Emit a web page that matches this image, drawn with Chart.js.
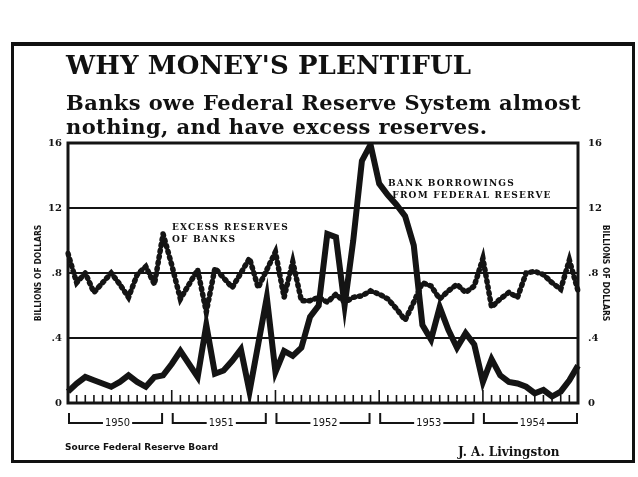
<!doctype html>
<html lang="en">
<head>
<meta charset="utf-8">
<title>Why Money's Plentiful</title>
<script src="https://cdn.jsdelivr.net/npm/chart.js@4.4.0/dist/chart.umd.min.js"></script>
<style>
  html, body { margin: 0; padding: 0; background: #fff; }
  #wrap { position: relative; width: 638px; height: 477px; overflow: hidden; color: #111; }
  #frame { position: absolute; left: 11px; top: 42px; width: 624px; height: 421px;
           border: 3px solid #111; border-top-width: 4px; box-sizing: border-box; }
  canvas { position: absolute; left: 0; top: 0; }
  .t { position: absolute; white-space: nowrap; font-family: 'DejaVu Serif', serif; font-weight: bold; line-height: 1; }
  #title { left: 66px; top: 52px; font-size: 26px; letter-spacing: 0.1px; }
  #sub1  { left: 66px; top: 92px; font-size: 21px; letter-spacing: 0.4px; }
  #sub2  { left: 66px; top: 116px; font-size: 21px; letter-spacing: 0.4px; }
  .note  { font-size: 9px; letter-spacing: 1.2px; line-height: 12px; }
  #noteExcess { left: 172px; top: 221px; }
  #noteBorrow { left: 388px; top: 177px; }
  #source { left: 65px; top: 443px; font-size: 9px; font-family: 'DejaVu Sans', sans-serif; }
  #credit { left: 458px; top: 446px; font-size: 12px; }
</style>
</head>
<body>
<div id="wrap">
  <div id="frame"></div>
  <canvas id="chart" width="638" height="477"></canvas>
  <div class="t" id="title">WHY MONEY'S PLENTIFUL</div>
  <div class="t" id="sub1">Banks owe Federal Reserve System almost</div>
  <div class="t" id="sub2">nothing, and have excess reserves.</div>
  <div class="t note" id="noteExcess">EXCESS RESERVES<br>OF BANKS</div>
  <div class="t note" id="noteBorrow">BANK BORROWINGS<br>&nbsp;FROM FEDERAL RESERVE</div>
  <div class="t" id="source">Source Federal Reserve Board</div>
  <div class="t" id="credit">J. A. Livingston</div>
</div>
<script>
// monthly, 1950-1954, billions of dollars
const years = [1950, 1951, 1952, 1953, 1954];
const months = years.flatMap(y => Array.from({ length: 12 }, (_, m) => y + '-' + (m + 1)));

const excessReserves = [
  0.92, 0.74, 0.80, 0.68, 0.74, 0.80, 0.73, 0.65, 0.79, 0.84, 0.73, 1.04,
  0.85, 0.64, 0.73, 0.82, 0.56, 0.83, 0.77, 0.71, 0.80, 0.89, 0.71, 0.82,
  0.93, 0.65, 0.87, 0.63, 0.63, 0.65, 0.62, 0.67, 0.62, 0.65, 0.66, 0.69,
  0.67, 0.64, 0.58, 0.51, 0.62, 0.74, 0.72, 0.64, 0.69, 0.73, 0.68, 0.72,
  0.89, 0.59, 0.64, 0.68, 0.65, 0.80, 0.81, 0.79, 0.74, 0.70, 0.88, 0.69,
];

const borrowings = [
  0.07, 0.12, 0.16, 0.14, 0.12, 0.10, 0.13, 0.17, 0.13, 0.10, 0.16, 0.17,
  0.24, 0.32, 0.24, 0.16, 0.48, 0.18, 0.20, 0.26, 0.33, 0.07, 0.36, 0.65,
  0.19, 0.32, 0.29, 0.34, 0.53, 0.60, 1.04, 1.02, 0.60, 1.00, 1.49, 1.59,
  1.35, 1.28, 1.22, 1.15, 0.97, 0.48, 0.39, 0.59, 0.45, 0.34, 0.43, 0.36,
  0.13, 0.27, 0.17, 0.13, 0.12, 0.10, 0.06, 0.08, 0.04, 0.07, 0.14, 0.23,
];

const yTickValues = [0, 0.4, 0.8, 1.2, 1.6];
const yTickLabels = ['0', '.4', '.8', '12', '16'];
const axisTitle = 'BILLIONS OF DOLLARS';

const INK = '#141414';

function tickLabel(v) {
  const i = yTickValues.findIndex(t => Math.abs(t - v) < 1e-6);
  return i >= 0 ? yTickLabels[i] : '';
}

// month ticks along the floor, frame, and the year brackets underneath
const inkPlugin = {
  id: 'ink',
  beforeDatasetsDraw(chart) {
    const { ctx, chartArea: a, scales: { x } } = chart;
    ctx.save();
    ctx.strokeStyle = INK;
    ctx.lineWidth = 1.6;
    months.forEach((m, i) => {
      const px = x.getPixelForValue(i);
      const h = i % 12 === 0 ? 13 : 8;
      ctx.beginPath();
      ctx.moveTo(px, a.bottom);
      ctx.lineTo(px, a.bottom - h);
      ctx.stroke();
    });
    ctx.restore();
  },
  afterDatasetsDraw(chart) {
    const { ctx, chartArea: a } = chart;
    ctx.save();
    ctx.strokeStyle = INK;
    ctx.lineWidth = 3;
    ctx.strokeRect(a.left, a.top, a.right - a.left, a.bottom - a.top);
    ctx.restore();
  },
  afterDraw(chart) {
    const { ctx, chartArea: a, scales: { x } } = chart;
    const yLine = a.bottom + 20, yTop = a.bottom + 10;
    ctx.save();
    ctx.strokeStyle = INK;
    ctx.fillStyle = INK;
    ctx.lineWidth = 2;
    ctx.font = '11px "Liberation Sans Narrow", "DejaVu Sans Condensed", sans-serif';
    ctx.textAlign = 'center';
    ctx.textBaseline = 'middle';
    years.forEach((yr, k) => {
      const l = x.getPixelForValue(k * 12) + 1;
      const r = x.getPixelForValue(k * 12 + 11) - 1;
      const mid = (l + r) / 2 + 2;
      const half = ctx.measureText(String(yr)).width / 2 + 2;
      ctx.beginPath();
      ctx.moveTo(l, yTop); ctx.lineTo(l, yLine); ctx.lineTo(mid - half, yLine);
      ctx.moveTo(mid + half, yLine); ctx.lineTo(r, yLine); ctx.lineTo(r, yTop);
      ctx.stroke();
      ctx.fillText(String(yr), mid, yLine);
    });
    ctx.restore();
  }
};

const tickFont = { family: '"DejaVu Serif", serif', weight: 'bold', size: 10 };
const titleFont = { family: '"DejaVu Sans Condensed", sans-serif', weight: 'bold', size: 8.5 };

new Chart(document.getElementById('chart'), {
  type: 'line',
  data: {
    labels: months,
    datasets: [
      {
        label: 'Bank borrowings from Federal Reserve',
        data: borrowings,
        borderColor: INK,
        borderWidth: 6,
        pointRadius: 0,
        tension: 0,
        borderJoinStyle: 'miter',
        yAxisID: 'y',
        order: 0,
      },
      {
        label: 'Excess reserves of banks',
        data: excessReserves,
        borderColor: INK,
        borderWidth: 5.5,
        borderDash: [1.5, 4.5],
        borderCapStyle: 'round',
        pointRadius: 0,
        tension: 0,
        yAxisID: 'y',
        order: 1,
      },
    ],
  },
  options: {
    responsive: false,
    animation: false,
    devicePixelRatio: 1,
    layout: { padding: { left: 34, right: 28, top: 143, bottom: 74 } },
    plugins: { legend: { display: false }, tooltip: { enabled: false } },
    scales: {
      x: { type: 'category', offset: false, display: false },
      y: {
        position: 'left',
        min: 0, max: 1.6,
        afterBuildTicks: s => { s.ticks = yTickValues.map(v => ({ value: v })); },
        afterFit: s => { s.width = 34; },
        border: { display: false },
        grid: {
          drawTicks: false,
          lineWidth: 2,
          color: c => (c.tick && c.tick.value > 0 && c.tick.value < 1.6) ? INK : 'transparent',
        },
        ticks: { color: INK, font: tickFont, padding: 6, callback: v => tickLabel(v) },
        title: { display: true, text: axisTitle, color: INK, font: titleFont, padding: { top: 0, bottom: 0 } },
      },
      y2: {
        position: 'right',
        min: 0, max: 1.6,
        afterBuildTicks: s => { s.ticks = yTickValues.map(v => ({ value: v })); },
        afterFit: s => { s.width = 32; },
        border: { display: false },
        grid: { display: false, drawTicks: false },
        ticks: { color: INK, font: tickFont, padding: 10, callback: v => tickLabel(v) },
        title: { display: true, text: axisTitle, color: INK, font: titleFont, padding: { top: 0, bottom: 0 } },
      },
    },
  },
  plugins: [inkPlugin],
});
</script>
</body>
</html>
